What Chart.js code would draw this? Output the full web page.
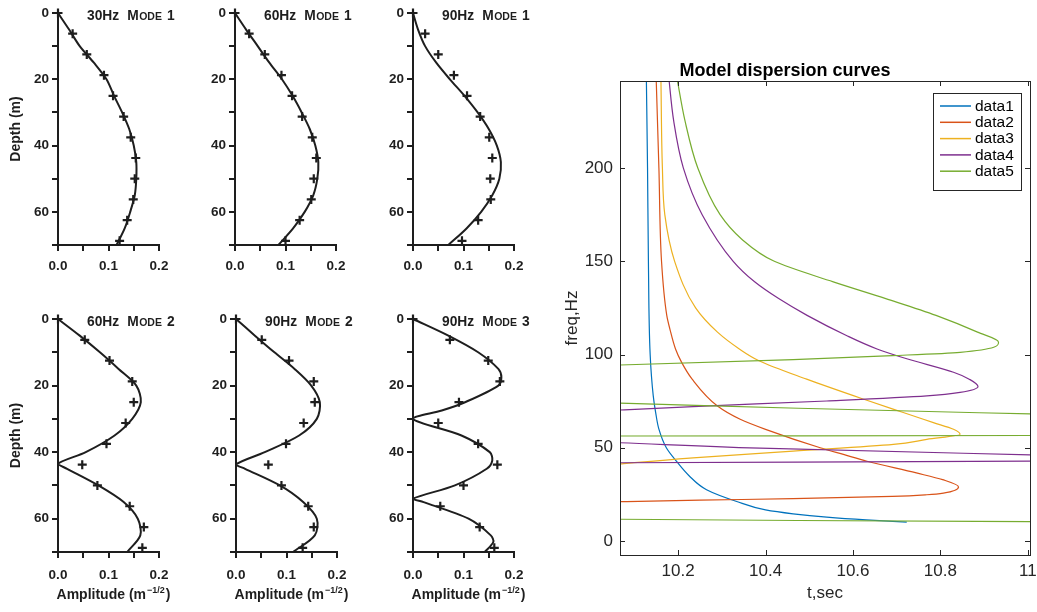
<!DOCTYPE html>
<html>
<head>
<meta charset="utf-8">
<script src="https://cdn.jsdelivr.net/npm/chart.js@4.4.1/dist/chart.umd.min.js"></script>
<style>
  body { margin: 0; background: #fff; }
  #wrap { position: relative; width: 1037px; height: 612px; overflow: hidden; }
  canvas { position: absolute; }
</style>
</head>
<body>
<div id="wrap">
  <canvas id="p1" width="181" height="290" style="left:0px;top:0px"></canvas>
  <canvas id="p2" width="181" height="290" style="left:177px;top:0px"></canvas>
  <canvas id="p3" width="181" height="290" style="left:355px;top:0px"></canvas>
  <canvas id="p4" width="181" height="312" style="left:0px;top:300px"></canvas>
  <canvas id="p5" width="181" height="312" style="left:178px;top:300px"></canvas>
  <canvas id="p6" width="181" height="312" style="left:355px;top:300px"></canvas>
  <canvas id="disp" width="497" height="567" style="left:540px;top:45px"></canvas>
</div>
<script>
// ---- depth profiles (left) ----
const markDepth = [0, 6.25, 12.5, 18.75, 25, 31.25, 37.5, 43.75, 50, 56.25, 62.5, 68.75];
const depthTicks = [0, 10, 20, 30, 40, 50, 60, 70];
const ampTicks = [0, 0.05, 0.1, 0.15, 0.2];
const panelFreq = ["30Hz", "60Hz", "90Hz", "60Hz", "90Hz", "90Hz"];
const panelMode = ["1", "1", "1", "2", "2", "3"];

const curveDepth = [0, 5, 10, 15, 20, 25, 30, 35, 40, 45, 50, 55, 60, 65, 70];
const p1Curve = [0, 0.022, 0.043, 0.071, 0.096, 0.111, 0.127, 0.141, 0.150, 0.155, 0.155, 0.152, 0.143, 0.132, 0.116];
const p1Marks = [0, 0.029, 0.057, 0.091, 0.109, 0.130, 0.144, 0.154, 0.152, 0.149, 0.137, 0.122];
const p2Curve = [0, 0.022, 0.045, 0.068, 0.093, 0.114, 0.132, 0.148, 0.159, 0.165, 0.163, 0.155, 0.138, 0.115, 0.086];
const p2Marks = [0, 0.028, 0.059, 0.092, 0.113, 0.133, 0.153, 0.161, 0.156, 0.151, 0.128, 0.100];
const p3Curve = [0, 0.010, 0.024, 0.046, 0.073, 0.102, 0.128, 0.150, 0.166, 0.174, 0.171, 0.157, 0.135, 0.106, 0.070];
const p3Marks = [0, 0.024, 0.050, 0.081, 0.107, 0.133, 0.151, 0.157, 0.153, 0.154, 0.129, 0.097];

const p4Depth = [0, 5, 10, 15, 20, 25, 30, 35, 40, 43.5, 45, 50, 55, 60, 65, 70];
const p4Curve = [0, 0.043, 0.083, 0.120, 0.155, 0.164, 0.147, 0.112, 0.055, 0, 0.018, 0.080, 0.130, 0.158, 0.163, 0.137];
const p4Marks = [0, 0.053, 0.102, 0.147, 0.150, 0.134, 0.096, 0.048, 0.078, 0.142, 0.170, 0.167];
const p5Depth = [0, 5, 10, 15, 20, 25, 30, 35, 40, 43.7, 45, 50, 55, 60, 65, 70];
const p5Curve = [0, 0.0375, 0.076, 0.116, 0.149, 0.166, 0.160, 0.125, 0.057, 0, 0.018, 0.087, 0.133, 0.160, 0.156, 0.113];
const p5Marks = [0, 0.051, 0.105, 0.154, 0.156, 0.134, 0.099, 0.064, 0.090, 0.143, 0.154, 0.132];
const p6Depth = [0, 5, 10, 15, 17.5, 20, 25, 27.5, 30, 35, 40, 42.5, 45, 50, 54, 55, 60, 65, 67, 70];
const p6Curve = [0, 0.070, 0.129, 0.169, 0.175, 0.169, 0.103, 0.057, 0, 0.096, 0.152, 0.157, 0.146, 0.083, 0, 0.021, 0.110, 0.154, 0.159, 0.142];
const p6Marks = [0, 0.073, 0.149, 0.172, 0.091, 0.050, 0.129, 0.167, 0.100, 0.054, 0.132, 0.161];

// ---- dispersion curves (right), null = break between branches ----
const seriesNames = ["data1", "data2", "data3", "data4", "data5"];
const seriesColors = ["#0072BD", "#D95319", "#EDB120", "#7E2F8E", "#77AC30"];
const tTicks = [10.2, 10.4, 10.6, 10.8, 11];
const fTicks = [0, 50, 100, 150, 200];

const t1 = [10.1272, 10.130, 10.132, 10.136, 10.143, 10.1485, 10.156, 10.173, 10.196, 10.225, 10.265, 10.334, 10.40, 10.463, 10.54, 10.63, 10.723];
const f1 = [250, 200, 150, 100, 78, 69, 60, 50, 42.8, 35, 27.5, 21.2, 16.7, 14.6, 12.8, 11.3, 10.1];
const t2 = [10.1495, 10.156, 10.162, 10.174, 10.181, 10.194, 10.208, 10.232, 10.290, 10.342, 10.40, 10.525, 10.58, 10.632, 10.745, 10.805, 10.8415, 10.807, 10.769, 10.69, 10.463, 10.25, 10.0];
const f2 = [250, 200, 150, 121, 113.8, 103, 95.8, 86.8, 72.4, 65.3, 59.9, 50, 46.3, 42.8, 36.5, 32.9, 29, 25.7, 24.8, 23.9, 22.7, 21.9, 20.8];
const t3 = [10.1605, 10.164, 10.1695, 10.192, 10.240, 10.290, 10.340, 10.385, 10.494, 10.625, 10.715, 10.784, 10.830, 10.845, 10.769, 10.6925, 10.463, 10.234, 10.0];
const f3 = [250, 200, 175, 150, 125, 112, 103, 96.7, 86.8, 76, 68.9, 63.5, 59.9, 57.2, 54.5, 51.8, 48.2, 44.6, 40.0];
const t4 = [10.178, 10.190, 10.212, 10.255, 10.326, 10.375, 10.430, 10.495, 10.585, 10.655, 10.725, 10.83, 10.866, 10.886, 10.845, 10.769, 10.54, 10.234, 10.0,
  null, 10.0, 10.067, 10.387, 11.1,
  null, 10.0, 11.1];
const f4 = [250, 225, 200, 175, 150, 139, 130, 121, 110.2, 103, 97.6, 90.5, 86.8, 82.9, 79.7, 77.8, 75.1, 72.1, 69.5,
  null, 53.3, 52.7, 49.8, 45.7,
  null, 41.9, 42.9];
const t5 = [10.196, 10.216, 10.245, 10.296, 10.345, 10.42, 10.555, 10.675, 10.79, 10.885, 10.933, 10.845, 10.69, 10.463, 10.067, 10.0,
  null, 10.0, 10.067, 10.475, 11.1,
  null, 10.0, 11.1,
  null, 10.0, 10.475, 11.1];
const f5 = [250, 225, 200, 175, 162, 150, 139, 130, 121, 112, 106.6, 101.2, 99.4, 97.3, 94.4, 94.0,
  null, 74.3, 73.9, 71.2, 67.6,
  null, 56.3, 56.6,
  null, 11.8, 11.0, 10.3];

const ink = "#1e1e1e";
const fam = '"Liberation Sans", Arial, Helvetica, sans-serif';
const axisInk = "#262626";

// small caps panel label + amplitude title with superscript
const panelText = {
  id: "panelText",
  afterDraw(chart, args, o) {
    const { ctx, chartArea: a } = chart;
    ctx.save();
    ctx.fillStyle = ink;
    ctx.textBaseline = "alphabetic";
    let x = a.left + 29;
    const y = a.top + 7;
    ctx.font = "bold 13.8px " + fam;
    ctx.fillText(o.freq, x, y);
    x += ctx.measureText(o.freq).width + 8;
    ctx.fillText("M", x, y);
    x += ctx.measureText("M").width + 0.5;
    ctx.font = "bold 10.5px " + fam;
    ctx.fillText("ODE", x, y);
    x += ctx.measureText("ODE").width + 5;
    ctx.font = "bold 13.8px " + fam;
    ctx.fillText(o.mode, x, y);

    if (o.amp) {
      const big = "bold 14px " + fam, small = "bold 9px " + fam;
      ctx.font = big;
      const w1 = ctx.measureText("Amplitude (m").width;
      const w3 = ctx.measureText(")").width;
      ctx.font = small;
      const w2 = ctx.measureText("\u22121/2").width + 2;
      const yb = a.bottom + 47;
      let sx = (a.left + a.right) / 2 + 5 - (w1 + w2 + w3) / 2;
      ctx.font = big;
      ctx.fillText("Amplitude (m", sx, yb);
      sx += w1 + 1;
      ctx.font = small;
      ctx.fillText("\u22121/2", sx, yb - 6);
      sx += w2 - 1;
      ctx.font = big;
      ctx.fillText(")", sx, yb);
    }
    ctx.restore();
  },
};

function profile(id, i, depth, curve, marks, bottomRow) {
  const tickFont = { family: fam, size: 13.5, weight: "bold" };
  new Chart(document.getElementById(id), {
    type: "scatter",
    data: {
      datasets: [
        {
          data: depth.map((d, k) => ({ x: curve[k], y: d })),
          showLine: true,
          borderColor: ink,
          borderWidth: 2,
          pointRadius: 0,
          tension: 0.3,
          clip: false,
        },
        {
          data: markDepth.map((d, k) => ({ x: marks[k], y: d })),
          pointStyle: "cross",
          pointRadius: 4.5,
          borderColor: ink,
          pointBorderWidth: 2.2,
          clip: false,
        },
      ],
    },
    options: {
      responsive: false,
      animation: false,
      layout: { padding: { left: 0, top: bottomRow ? 19 : 13, right: 22, bottom: 0 } },
      plugins: {
        legend: { display: false },
        tooltip: { enabled: false },
        panelText: { freq: panelFreq[i], mode: panelMode[i], amp: bottomRow },
      },
      scales: {
        x: {
          type: "linear",
          min: 0,
          max: 0.2,
          afterBuildTicks: (s) => { s.ticks = ampTicks.map((v) => ({ value: v })); },
          afterFit: (s) => { s.height = bottomRow ? 60 : 45; s.paddingLeft = 0; s.paddingRight = 0; },
          grid: { drawOnChartArea: false, drawTicks: true, tickLength: 6, color: ink, lineWidth: 2 },
          border: { display: true, color: ink, width: 2 },
          ticks: {
            autoSkip: false,
            maxRotation: 0,
            padding: bottomRow ? 9 : 7,
            color: ink,
            font: tickFont,
            callback: (v) => (Math.round(v * 100) % 10 === 0 ? v.toFixed(1) : ""),
          },
        },
        y: {
          type: "linear",
          reverse: true,
          min: 0,
          max: 70,
          afterBuildTicks: (s) => { s.ticks = depthTicks.map((v) => ({ value: v })); },
          afterFit: (s) => { s.width = 58; s.paddingTop = 0; s.paddingBottom = 0; },
          grid: { drawOnChartArea: false, drawTicks: true, tickLength: 6, color: ink, lineWidth: 2 },
          border: { display: true, color: ink, width: 2 },
          ticks: {
            autoSkip: false,
            padding: 3,
            color: ink,
            font: tickFont,
            callback: (v) => (v % 20 === 0 ? String(v) : ""),
          },
          title: {
            display: i === 0 || i === 3,
            text: "Depth (m)",
            color: ink,
            font: { family: fam, size: 14, weight: "bold" },
            padding: { top: 8, bottom: 0 },
          },
        },
      },
    },
    plugins: [panelText],
  });
}

profile("p1", 0, curveDepth, p1Curve, p1Marks, false);
profile("p2", 1, curveDepth, p2Curve, p2Marks, false);
profile("p3", 2, curveDepth, p3Curve, p3Marks, false);
profile("p4", 3, p4Depth, p4Curve, p4Marks, true);
profile("p5", 4, p5Depth, p5Curve, p5Marks, true);
profile("p6", 5, p6Depth, p6Curve, p6Marks, true);

// ---- dispersion chart ----
function branches(t, f) {
  const out = [];
  let cur = [];
  t.forEach((v, k) => {
    if (v === null) {
      out.push(cur);
      cur = [];
    } else {
      cur.push({ x: v, y: f[k] });
    }
  });
  out.push(cur);
  return out;
}

const allT = [t1, t2, t3, t4, t5];
const allF = [f1, f2, f3, f4, f5];
const dispSets = [];
for (let s = allT.length - 1; s >= 0; s--) {
  branches(allT[s], allF[s]).forEach((pts) => {
    // freq falls monotonically along every branch, so spline t as a function of freq
    dispSets.push({
      label: seriesNames[s],
      data: pts,
      indexAxis: "y",
      borderColor: seriesColors[s],
      borderWidth: 1.2,
      pointRadius: 0,
      cubicInterpolationMode: "monotone",
      fill: false,
    });
  });
}

// box frame with inward ticks, like the original
const matlabFrame = {
  id: "matlabFrame",
  afterDatasetsDraw(chart) {
    const { ctx, chartArea: a, scales: { x, y } } = chart;
    ctx.save();
    ctx.strokeStyle = axisInk;
    ctx.lineWidth = 1;
    ctx.strokeRect(Math.round(a.left) + 0.5, Math.round(a.top) + 0.5, Math.round(a.width), Math.round(a.height));
    ctx.beginPath();
    tTicks.forEach((v) => {
      const px = Math.round(x.getPixelForValue(v)) + 0.5;
      ctx.moveTo(px, a.bottom); ctx.lineTo(px, a.bottom - 5);
      ctx.moveTo(px, a.top); ctx.lineTo(px, a.top + 5);
    });
    fTicks.forEach((v) => {
      const py = Math.round(y.getPixelForValue(v)) + 0.5;
      ctx.moveTo(a.left, py); ctx.lineTo(a.left + 5, py);
      ctx.moveTo(a.right, py); ctx.lineTo(a.right - 5, py);
    });
    ctx.stroke();
    ctx.restore();
  },
};

const boxLegend = {
  id: "boxLegend",
  afterDraw(chart) {
    const { ctx, chartArea: a } = chart;
    const w = 88, h = 97;
    const left = Math.round(a.right - 9 - w), top = Math.round(a.top + 12);
    ctx.save();
    ctx.fillStyle = "#fff";
    ctx.fillRect(left, top, w, h);
    ctx.strokeStyle = axisInk;
    ctx.lineWidth = 1;
    ctx.strokeRect(left + 0.5, top + 0.5, w, h);
    ctx.font = "15.5px " + fam;
    ctx.textBaseline = "middle";
    seriesNames.forEach((n, k) => {
      const yy = top + 13 + k * 16.3;
      ctx.strokeStyle = seriesColors[k];
      ctx.lineWidth = 1.5;
      ctx.beginPath();
      ctx.moveTo(left + 7, yy);
      ctx.lineTo(left + 38, yy);
      ctx.stroke();
      ctx.fillStyle = "#000";
      ctx.fillText(n, left + 42, yy + 0.5);
    });
    ctx.restore();
  },
};

new Chart(document.getElementById("disp"), {
  type: "line",
  data: { datasets: dispSets },
  options: {
    responsive: false,
    animation: false,
    layout: { padding: { left: 0, right: 7, top: 0, bottom: 0 } },
    plugins: {
      legend: { display: false },
      tooltip: { enabled: false },
      title: {
        display: true,
        text: "Model dispersion curves",
        color: "#000",
        font: { family: fam, size: 18, weight: "bold", lineHeight: 1 },
        padding: { top: 17, bottom: 1 },
      },
    },
    scales: {
      x: {
        type: "linear",
        min: 10.067,
        max: 11.005,
        afterBuildTicks: (s) => { s.ticks = tTicks.map((v) => ({ value: v })); },
        afterFit: (s) => { s.height = 57; s.paddingLeft = 0; s.paddingRight = 0; },
        grid: { display: false, drawTicks: false },
        border: { display: false },
        ticks: {
          autoSkip: false,
          maxRotation: 0,
          padding: 6,
          color: axisInk,
          font: { family: fam, size: 17 },
          callback: (v) => String(+v.toFixed(1)),
        },
        title: {
          display: true,
          text: "t,sec",
          color: axisInk,
          font: { family: fam, size: 17 },
          padding: { top: 0, bottom: 8 },
        },
      },
      y: {
        type: "linear",
        min: -7.5,
        max: 246.7,
        afterBuildTicks: (s) => { s.ticks = fTicks.map((v) => ({ value: v })); },
        afterFit: (s) => { s.width = 80; s.paddingTop = 0; s.paddingBottom = 0; },
        grid: { display: false, drawTicks: false },
        border: { display: false },
        ticks: {
          autoSkip: false,
          padding: 7,
          color: axisInk,
          font: { family: fam, size: 17 },
        },
        title: {
          display: true,
          text: "freq,Hz",
          color: axisInk,
          font: { family: fam, size: 17 },
          padding: { top: 22, bottom: 0 },
        },
      },
    },
  },
  plugins: [matlabFrame, boxLegend],
});
</script>
</body>
</html>
